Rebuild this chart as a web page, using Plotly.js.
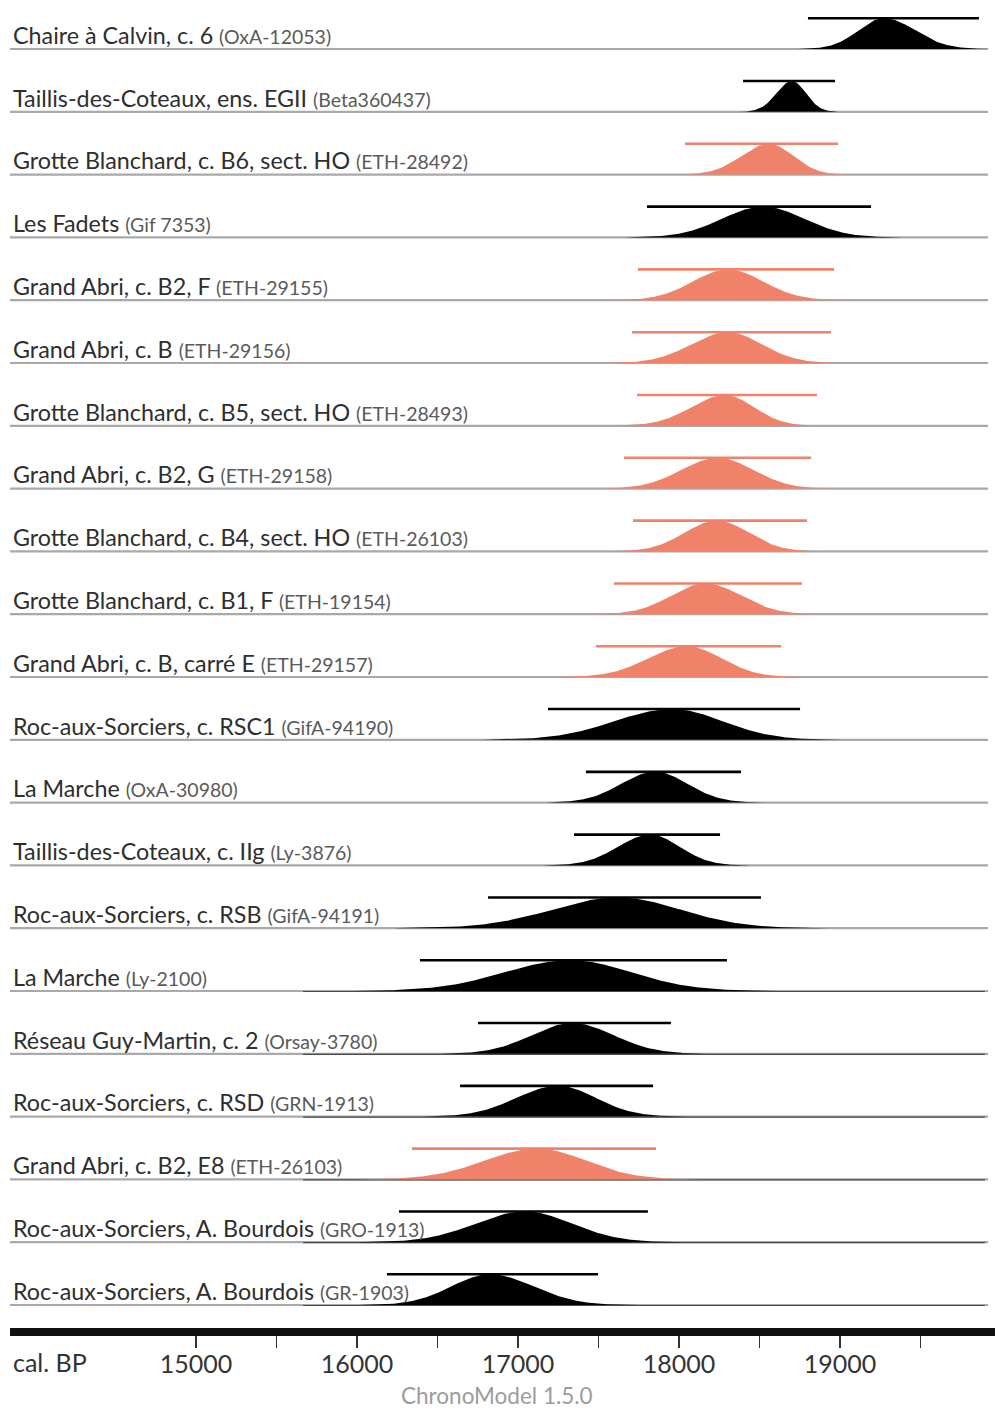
<!DOCTYPE html>
<html><head><meta charset="utf-8">
<script src="https://cdn.plot.ly/plotly-3.0.1.min.js"></script>
<style>body{margin:0;background:#fff}#chart{width:995px;height:1411px}</style>
</head><body><div id="chart"></div>
<script>
// ---- data (cal. BP) ----
const labels = ['Chaire à Calvin, c. 6','Taillis-des-Coteaux, ens. EGII','Grotte Blanchard, c. B6, sect. HO','Les Fadets','Grand Abri, c. B2, F','Grand Abri, c. B','Grotte Blanchard, c. B5, sect. HO','Grand Abri, c. B2, G','Grotte Blanchard, c. B4, sect. HO','Grotte Blanchard, c. B1, F','Grand Abri, c. B, carré E','Roc-aux-Sorciers, c. RSC1','La Marche','Taillis-des-Coteaux, c. IIg','Roc-aux-Sorciers, c. RSB','La Marche','Réseau Guy-Martin, c. 2','Roc-aux-Sorciers, c. RSD','Grand Abri, c. B2, E8','Roc-aux-Sorciers, A. Bourdois','Roc-aux-Sorciers, A. Bourdois'];
const codes = ['OxA-12053','Beta360437','ETH-28492','Gif 7353','ETH-29155','ETH-29156','ETH-28493','ETH-29158','ETH-26103','ETH-19154','ETH-29157','GifA-94190','OxA-30980','Ly-3876','GifA-94191','Ly-2100','Orsay-3780','GRN-1913','ETH-26103','GRO-1913','GR-1903'];
const highlighted = [false,false,true,false,true,true,true,true,true,true,true,false,false,false,false,false,false,false,true,false,false];
const modes    = [19273,18702,18559,18522,18304,18304,18286,18242,18236,18161,18050,17957,17851,17820,17621,17323,17335,17248,17118,17043,16826];
const footLow  = [18863,18453,18112,17863,17739,17714,17739,17652,17714,17615,17429,17031,17304,17304,16559,16267,16683,16578,16267,16248,16205];
const footHigh = [19776,18925,18950,19186,18876,18857,18752,18814,18752,18739,18609,18770,18379,18298,18627,18317,18006,17863,17913,17801,17528];
const rangeLow = [18801,18398,18037,17801,17745,17708,17739,17658,17714,17596,17484,17186,17422,17348,16814,16391,16752,16640,16342,16261,16186];
const rangeHigh= [19863,18969,18988,19193,18963,18944,18857,18820,18795,18764,18634,18752,18385,18255,18509,18298,17950,17839,17857,17807,17497];
const tailRows = [15,16,17,18,19,20];
const tickVals = [15000,15500,16000,16500,17000,17500,18000,18500,19000,19500];
const tickText = ['15000','','16000','','17000','','18000','','19000',''];

const BLACK = '#000000', SALMON = '#f0826a';
const H = 0.49; // curve height in row units
const traces = [];
const shapes = [];
const annotations = [];

labels.forEach((lab, k) => {
  const col = highlighted[k] ? SALMON : BLACK;
  shapes.push({type:'line', xref:'paper', yref:'y', x0:0, x1:0.993, y0:k, y1:k, line:{color:'#a9a9ab', width:2.2}, layer:'below'});
  if (tailRows.includes(k)) {
    shapes.push({type:'line', xref:'x', yref:'y', x0:15665, x1:19900, y0:k+0.008, y1:k+0.008, line:{color:'#4a4a4a', width:1.2}, layer:'below'});
  }
  const m = modes[k], sL = (m - footLow[k]) / 2.6, sR = (footHigh[k] - m) / 2.6;
  const xs = [], ys = [];
  for (let x = m - 3.4 * sL; x <= m + 3.4 * sR; x += 4) {
    const s = x < m ? sL : sR;
    xs.push(x); ys.push(k - H * Math.exp(-0.5 * Math.pow((x - m) / s, 2)));
  }
  xs.push(m + 3.4 * sR); ys.push(k);
  xs.unshift(m - 3.4 * sL); ys.unshift(k);
  traces.push({x: xs, y: ys, type:'scatter', mode:'lines', fill:'toself', fillcolor: col, line:{width:0, color: col}, hoverinfo:'skip', showlegend:false});
  traces.push({x:[rangeLow[k], rangeHigh[k]], y:[k - H, k - H], type:'scatter', mode:'lines', line:{color: col, width:2.6}, hoverinfo:'skip', showlegend:false});
  annotations.push({xref:'paper', yref:'y', x:0.001, y:k - 0.225, xanchor:'left', yanchor:'middle', showarrow:false,
    text: lab + ' <span style="font-size:19.5px;color:#5a5a5a">(' + codes[k] + ')</span>',
    font:{family:'Lato, sans-serif', size:23.3, color:'#2e2e2e'}});
});

annotations.push({xref:'paper', yref:'paper', x:0.001, y:-0.0255, xanchor:'left', yanchor:'middle', showarrow:false, text:'cal. BP', font:{family:'Lato, sans-serif', size:25, color:'#333'}});
annotations.push({xref:'paper', yref:'paper', x:0.494, y:-0.0512, xanchor:'center', yanchor:'middle', showarrow:false, text:'ChronoModel 1.5.0', font:{family:'Lato, sans-serif', size:22.5, color:'#9c9c9c'}});

const layout = {
  width: 995, height: 1411,
  margin: {l:10, r:0, t:0, b:83},
  paper_bgcolor:'#fff', plot_bgcolor:'#fff',
  xaxis: {range:[13844.7, 19962.8], showgrid:false, zeroline:false, showline:true, linewidth:8, linecolor:'#111',
          tickmode:'array', tickvals: tickVals, ticktext: tickText, ticks:'outside', ticklen:12, tickwidth:1.6, tickcolor:'#333',
          ticklabelstandoff:-5,
          tickfont:{family:'Lato, sans-serif', size:25, color:'#333'}, fixedrange:true},
  yaxis: {range:[20.366, -0.780], visible:false, fixedrange:true},
  shapes, annotations, showlegend:false
};
Plotly.newPlot('chart', traces, layout, {staticPlot:true});
</script></body></html>
